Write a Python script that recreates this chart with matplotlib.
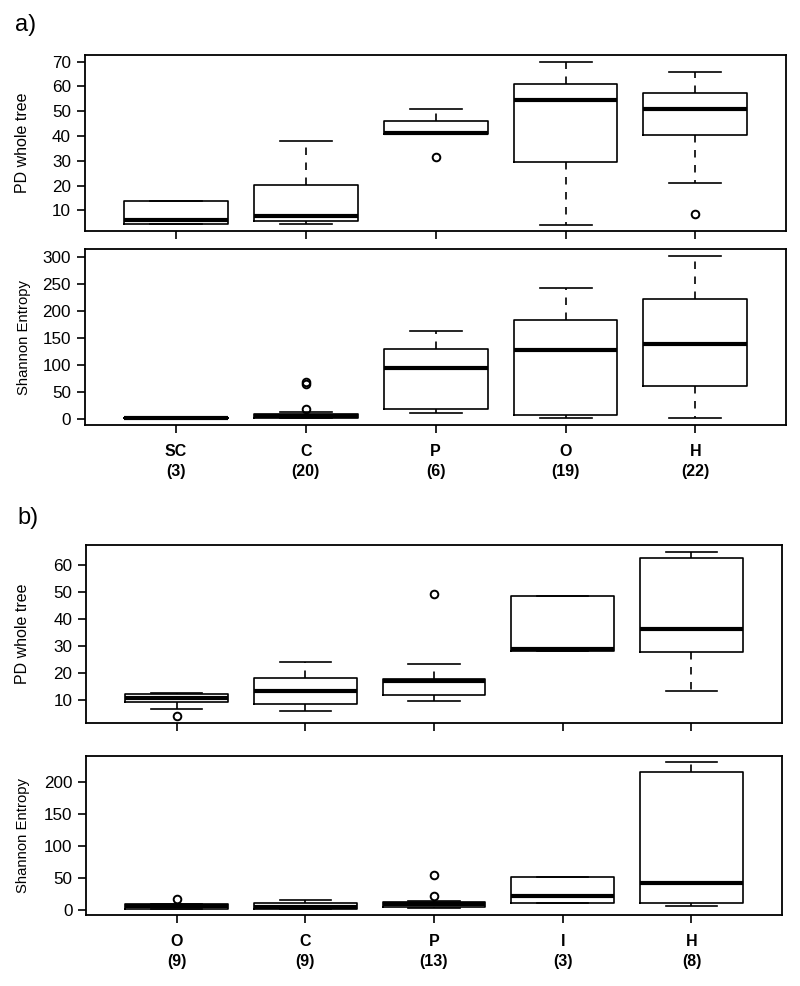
import matplotlib
matplotlib.use('Agg')
import matplotlib.pyplot as plt

plt.rcParams['font.family'] = ['Liberation Sans', 'DejaVu Sans']

# a) groups
groups_a = ['SC', 'C', 'P', 'O', 'H']
n_a = [3, 20, 6, 19, 22]
# PD whole tree (a): whisker low, q1, median, q3, whisker high, outliers
pd_a_lo = [4.6, 4.5, 40.7, 4.3, 21.1]
pd_a_q1 = [4.6, 5.7, 40.7, 29.4, 40.5]
pd_a_med = [6.0, 7.8, 41.3, 54.5, 50.9]
pd_a_q3 = [13.7, 20.1, 46.0, 60.9, 57.4]
pd_a_hi = [13.7, 38.1, 50.9, 70.0, 65.7]
pd_a_out = [[], [], [31.6], [], [8.4]]
# Shannon entropy (a)
sh_a_lo = [0.9, 1.3, 11.7, 1.8, 1.3]
sh_a_q1 = [1.0, 2.5, 17.9, 8.0, 61.0]
sh_a_med = [1.5, 5.0, 94.3, 127.5, 138.0]
sh_a_q3 = [2.2, 9.0, 128.8, 183.0, 222.4]
sh_a_hi = [2.5, 12.9, 162.7, 242.1, 301.9]
sh_a_out = [[], [17.9, 64.5, 68.5], [], [], []]

# b) groups
groups_b = ['O', 'C', 'P', 'I', 'H']
n_b = [9, 9, 13, 3, 8]
pd_b_lo = [6.5, 5.6, 9.5, 28.0, 13.1]
pd_b_q1 = [9.0, 8.5, 11.6, 28.0, 27.7]
pd_b_med = [10.6, 13.1, 17.0, 29.0, 36.1]
pd_b_q3 = [12.1, 18.2, 17.7, 48.4, 62.9]
pd_b_hi = [12.3, 23.9, 23.4, 48.4, 65.1]
pd_b_out = [[3.8], [], [49.3], [], []]
sh_b_lo = [1.8, 2.0, 3.6, 12.0, 6.3]
sh_b_q1 = [2.6, 2.6, 5.5, 12.0, 11.5]
sh_b_med = [6.0, 5.2, 9.0, 21.9, 41.8]
sh_b_q3 = [10.4, 12.0, 12.5, 52.2, 215.7]
sh_b_hi = [10.4, 15.7, 14.0, 52.2, 231.3]
sh_b_out = [[17.2], [], [22.5, 54.8], [], []]


def draw(ax, lo, q1, med, q3, hi, out, yticks, ylabel, ylabsize, labx, labels=None, counts=None):
    stats = []
    for i in range(len(lo)):
        stats.append({'whislo': lo[i], 'q1': q1[i], 'med': med[i], 'q3': q3[i],
                      'whishi': hi[i], 'fliers': out[i]})
    ax.bxp(stats, positions=range(1, len(lo) + 1), widths=0.8,
           boxprops=dict(color='black', linewidth=1.2),
           medianprops=dict(color='black', linewidth=3.0, solid_capstyle='butt'),
           whiskerprops=dict(color='black', linewidth=1.2, linestyle=(0, (4.5, 4.5))),
           capprops=dict(color='black', linewidth=1.2),
           flierprops=dict(marker='o', markerfacecolor='none', markeredgecolor='black',
                           markersize=5.5, markeredgewidth=1.4))
    allv = lo + hi + [v for o in out for v in o]
    d0, d1 = min(allv), max(allv)
    pad = 0.04 * (d1 - d0)
    ax.set_ylim(d0 - pad, d1 + pad)
    ax.set_xlim(0.3, len(lo) + 0.7)
    ax.set_yticks(yticks)
    ax.set_yticklabels([str(t) for t in yticks], fontsize=12.3)
    ax.set_xticks(range(1, len(lo) + 1))
    if labels is not None:
        ax.set_xticklabels(['%s\n(%d)' % (g, n) for g, n in zip(labels, counts)],
                           fontsize=11.5, fontweight='bold', linespacing=1.4)
    else:
        ax.set_xticklabels([''] * len(lo))
    ax.tick_params(direction='out', length=6, width=1.2, color='black', pad=4)
    ax.tick_params(axis='x', pad=8)
    for s in ax.spines.values():
        s.set_linewidth(1.3)
    ax.set_ylabel(ylabel, fontsize=ylabsize, va='center')
    ax.yaxis.set_label_coords(labx, 0.5)


fig = plt.figure(figsize=(8, 9.86), dpi=100)

ax1 = fig.add_axes([0.106, 0.7657, 0.877, 0.1785])
draw(ax1, pd_a_lo, pd_a_q1, pd_a_med, pd_a_q3, pd_a_hi, pd_a_out,
     [10, 20, 30, 40, 50, 60, 70], 'PD whole tree', 11.5, (22.5 - 85) / 701.5)
ax2 = fig.add_axes([0.106, 0.5690, 0.877, 0.1782])
draw(ax2, sh_a_lo, sh_a_q1, sh_a_med, sh_a_q3, sh_a_hi, sh_a_out,
     [0, 50, 100, 150, 200, 250, 300], 'Shannon Entropy', 10.7, (24 - 85) / 701.5,
     groups_a, n_a)

ax3 = fig.add_axes([0.108, 0.2670, 0.869, 0.1802])
draw(ax3, pd_b_lo, pd_b_q1, pd_b_med, pd_b_q3, pd_b_hi, pd_b_out,
     [10, 20, 30, 40, 50, 60], 'PD whole tree', 11.5, (22.5 - 86.5) / 695.3)
ax4 = fig.add_axes([0.108, 0.0720, 0.869, 0.1613])
draw(ax4, sh_b_lo, sh_b_q1, sh_b_med, sh_b_q3, sh_b_hi, sh_b_out,
     [0, 50, 100, 150, 200], 'Shannon Entropy', 10.7, (23.5 - 86.5) / 695.3,
     groups_b, n_b)

fig.text(15 / 800, 1 - 31 / 986, 'a)', fontsize=17, ha='left', va='baseline')
fig.text(17 / 800, 1 - 524 / 986, 'b)', fontsize=17, ha='left', va='baseline')

fig.savefig('out.png', dpi=100)
